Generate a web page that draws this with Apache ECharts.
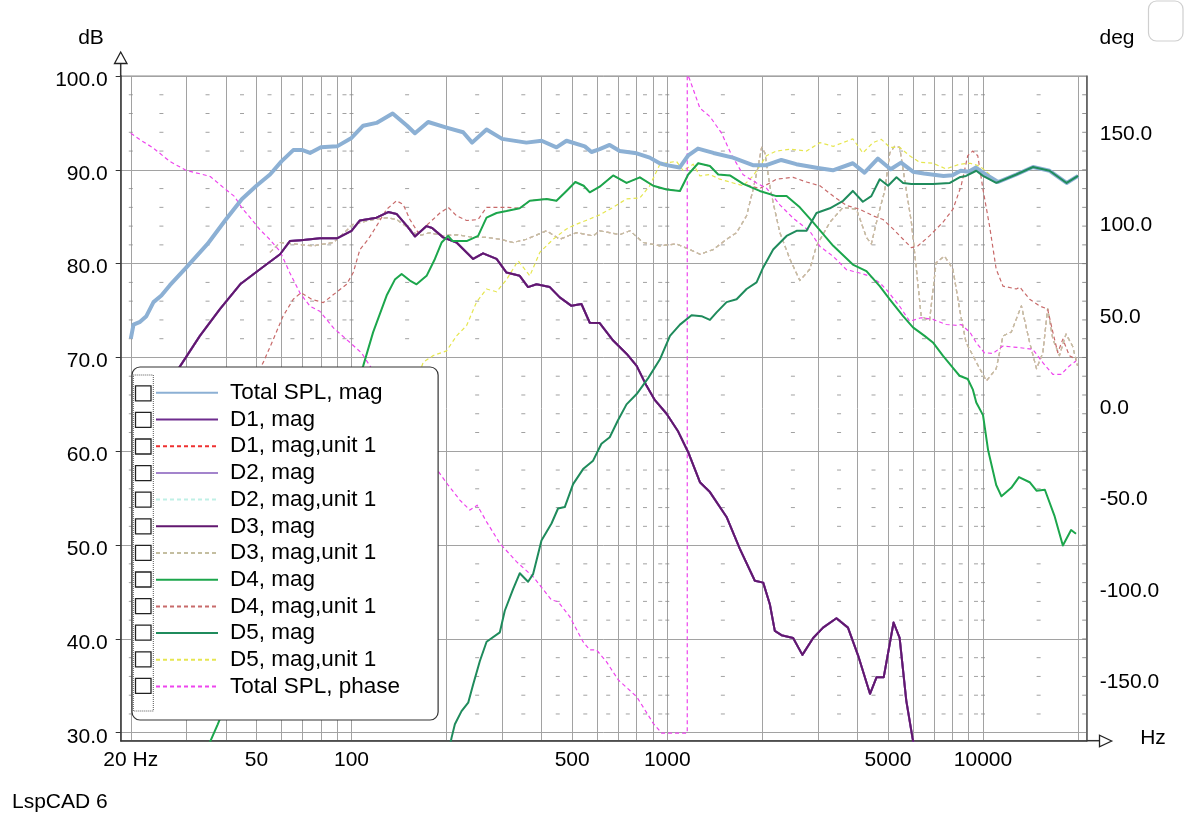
<!DOCTYPE html>
<html>
<head>
<meta charset="utf-8">
<script src="https://cdn.jsdelivr.net/npm/echarts@6/dist/echarts.min.js"></script>
<style>html,body{margin:0;padding:0;background:#fff}#c{width:1204px;height:825px}</style>
</head>
<body>
<div id="c"></div>
<script>
const FONT = '"Liberation Sans", Arial, sans-serif';

// ---- axis ranges and tick values ----
const X_MIN = 18.58, X_MAX = 21300;
const DB_MIN = 29.15, DB_MAX = 100;
const DEG_MIN = -184.2, DEG_MAX = 179.6;
const xGridFreqs = [20,30,40,50,60,70,80,90,100,200,300,400,500,600,700,800,900,1000,2000,3000,4000,5000,6000,7000,8000,9000,10000,20000];
const xLabelFreqs = [20,50,100,500,1000,5000,10000];
const dbTicks = [30,40,50,60,70,80,90,100];
const degTicks = [-150,-100,-50,0,50,100,150];
const dashFreqs = [20,25,35,45,55,65,75,85,95,100,150,250,350,450,550,650,750,850,950,1000,1500,2500,3500,4500,5500,6500,7500,8500,9500,10000,15000];
const dashLevels = [32,34,36,38,42,44,46,48,52,54,56,58,62,64,66,68,72,74,76,78,82,84,86,88,92,94,96,98];
const frameTickLevels = [32,34,36,38,40,42,44,46,48,50,52,54,56,58,60,62,64,66,68,70,72,74,76,78,80,82,84,86,88,90,92,94,96,98];

// ---- series names (legend order) ----
const seriesNames = ['Total SPL, mag','D1, mag','D1, mag,unit 1','D2, mag','D2, mag,unit 1','D3, mag','D3, mag,unit 1','D4, mag','D4, mag,unit 1','D5, mag','D5, mag,unit 1','Total SPL, phase'];

// ---- data: [frequency Hz, dB] ----
const totalSplMag = [[20,72.0],[20.4,73.5],[21.4,73.8],[22.4,74.4],[23.6,75.9],[25,76.6],[26.6,77.7],[30,79.6],[35,82.1],[40,84.7],[45,86.9],[50,88.3],[55.2,89.5],[60,90.9],[65.4,92.1],[70,92.1],[73.9,91.8],[80,92.4],[90,92.5],[100,93.4],[108.9,94.7],[120,95.0],[135,96.0],[150,94.7],[158.8,93.9],[174.9,95.1],[200,94.5],[225.7,94.0],[241,92.9],[267.7,94.3],[300,93.3],[358,92.9],[400,93.1],[445.8,92.4],[479.6,93.1],[548,92.5],[575.5,91.9],[611,92.2],[657,92.65],[707,92.0],[800,91.76],[880,91.3],[946,90.7],[995,90.5],[1094,90.24],[1163,91.5],[1251,92.26],[1400,91.8],[1614,91.3],[1867,90.5],[2060,90.5],[2297,91.05],[2563,90.6],[3000,90.2],[3346,89.95],[3870,90.7],[4214,89.7],[4643,91.2],[5100,90.06],[5500,90.77],[6000,89.8],[6500,89.6],[7500,89.35],[8000,89.42],[8500,89.9],[9000,89.8],[9500,90.24],[10000,89.7],[11160,88.7],[12750,89.5],[14400,90.3],[16250,89.9],[18400,88.6],[20000,89.35]];

const wooferMag = [[22,63.2],[28.7,69.1],[33.1,72.3],[38.3,75.15],[44.4,77.8],[51.3,79.4],[59.4,81.0],[63.8,82.4],[69.2,82.5],[79.4,82.7],[90,82.7],[100,83.5],[106.3,84.6],[120,84.9],[130.7,85.5],[138.9,85.3],[150,84.0],[158.8,82.9],[172.9,84.0],[180,83.8],[195,82.8],[215.1,82.25],[242.8,80.5],[261,81.1],[288,80.5],[309.7,79.05],[341,78.7],[362.4,77.5],[385.4,77.8],[424.6,77.5],[456.7,76.4],[497.4,75.5],[534.8,75.7],[568.3,73.7],[611,73.66],[674,71.8],[743,70.4],[800,69.1],[859,67.0],[914,65.45],[995,64.0],[1083,62.1],[1165,59.9],[1269,56.7],[1365,55.65],[1541,53.0],[1698,49.6],[1894,46.2],[2013,46.0],[2113,43.7],[2191,40.85],[2300,40.4],[2504,40.1],[2679,38.3],[2898,40.1],[3115,41.2],[3434,42.2],[3735,41.2],[4025,38.2],[4386,34.15],[4600,35.9],[4847,35.9],[5209,41.75],[5444,40.1],[5716,33.4],[5980,29.45],[6100,28.0]];

const wooferRaw = [[55.2,81.2],[59.4,82.25],[65.4,82.1],[75.7,81.9],[87.7,82.25],[101.3,84.2],[117.1,84.7],[129.2,84.9],[138.9,84.7],[153.1,83.7],[162.6,82.96],[177.1,83.3],[195,82.96],[215.1,83.1],[242.8,82.8],[267.7,82.8],[295,82.6],[325,82.25],[358,82.6],[414.5,83.5],[456.7,82.6],[515.6,83.3],[582.6,82.96],[611,83.5],[657,83.3],[708,83.1],[762,83.5],[839,82.25],[948,81.9],[1070,82.1],[1179,81.5],[1269,81.0],[1398,81.5],[1541,82.6],[1658,83.3],[1783,85.1],[1870,87.9],[1941,90.4],[1990,92.4],[2038,91.8],[2113,88.3],[2165,86.5],[2273,83.3],[2445,80.5],[2629,78.2],[2827,79.4],[2969,81.9],[3273,84.4],[3606,86.0],[3974,85.8],[4274,82.8],[4429,82.1],[4650,85.1],[4882,87.75],[5066,91.8],[5253,92.5],[5444,92.4],[5646,89.0],[5932,84.4],[6152,79.4],[6372,74.4],[6769,73.9],[7104,80.1],[7552,80.8],[8032,79.4],[8425,75.2],[8837,71.6],[9520,69.5],[10250,67.5],[11010,68.8],[11570,72.3],[12290,72.7],[13230,75.5],[14050,71.6],[14770,68.8],[15470,70.5],[16020,75.2],[16640,71.95],[17460,70.2],[18320,72.5],[19220,71.2],[19930,69.1]];

const midMag = [[35.2,28.6],[37.7,30.9],[108.9,69.1],[117.1,72.7],[129.2,76.6],[137.2,78.3],[144.1,78.9],[153.1,78.2],[160.7,77.8],[172.9,78.7],[183.7,80.5],[192.9,82.25],[202.4,82.96],[209,82.4],[231.5,82.4],[251.8,82.96],[267.7,84.9],[288,85.4],[309.7,85.6],[341,85.9],[367,86.7],[414.5,86.9],[445.8,86.7],[479.6,87.75],[511.5,88.7],[543.6,88.3],[568.3,87.6],[611,88.2],[674,89.4],[743,88.6],[819,89.2],[903,88.3],[995,87.9],[1097,87.75],[1165,89.5],[1253,90.7],[1365,90.4],[1450,89.5],[1579,89.4],[1740,88.5],[1963,87.75],[2216,87.2],[2387,87.2],[2629,86.0],[2898,84.4],[3354,81.9],[3870,79.9],[4274,79.2],[4709,77.6],[5066,76.2],[5584,74.4],[6000,73.2],[6530,72.3],[6939,71.6],[7461,70.2],[8032,68.9],[8425,68.05],[8946,67.7],[9280,66.6],[9520,65.2],[10000,63.85],[10380,60.1],[11010,56.4],[11440,55.2],[12290,56.1],[13000,57.25],[14050,56.7],[14770,55.8],[15700,55.9],[16830,53.15],[17900,49.95],[19010,51.6],[19700,51.2]];

const midRaw = [[40,62.0],[52.6,69.5],[56.5,71.9],[60.7,74.4],[65.4,76.2],[69.2,76.9],[74.8,76.2],[81.4,75.85],[87.7,76.7],[96.5,77.8],[101.3,79.05],[106.3,81.5],[113,82.6],[120,84.0],[129.2,85.8],[138.9,86.7],[145.8,86.3],[153.1,84.7],[162.6,83.3],[177.1,84.4],[190.6,85.4],[202.4,86.0],[215.1,85.1],[231.5,84.6],[251.8,84.7],[267.7,86.0],[288,86.0],[313.3,86.0],[341,85.9],[367,86.7],[414.5,86.9],[445.8,86.7],[479.6,87.75],[511.5,88.7],[543.6,88.3],[568.3,87.6],[611,88.2],[674,89.4],[743,88.6],[819,89.2],[903,88.3],[995,87.9],[1097,87.75],[1165,89.5],[1253,90.7],[1365,90.4],[1450,89.5],[1579,89.4],[1740,88.5],[1963,88.0],[2216,89.0],[2504,89.2],[2761,88.7],[3045,88.3],[3354,87.2],[3694,86.2],[4069,85.8],[4483,85.1],[4824,84.7],[5189,83.7],[5584,82.6],[5932,81.7],[6224,81.9],[6769,82.96],[7461,84.4],[8032,85.8],[8527,88.3],[8946,91.5],[9280,92.0],[9625,91.5],[10000,87.9],[10490,84.0],[11010,79.4],[11570,77.6],[12750,77.3],[13080,77.5],[14050,76.2],[15090,75.5],[16020,75.15],[16640,72.7],[17250,70.5],[17900,71.95],[18770,70.2],[19700,69.8]];

const tweeterMag = [[204,28.3],[207.4,29.45],[212.5,30.9],[223.1,32.3],[234.2,33.2],[242.8,35.15],[255,37.65],[267.8,39.7],[295,40.7],[305.8,43.0],[324.9,45.3],[341.2,47.0],[362.4,46.1],[375.8,46.9],[399.6,50.5],[429.9,52.3],[450.9,53.9],[473.6,54.05],[503.2,56.5],[541.2,58.1],[582.2,59.0],[618.8,60.8],[657.3,61.5],[698.2,63.3],[743,65.0],[800,66.1],[870,67.8],[948,69.8],[1020,72.3],[1097,73.5],[1194,74.5],[1284,74.4],[1365,74.0],[1433,74.8],[1541,75.9],[1658,76.2],[1783,77.3],[1918,78.0],[2013,79.6],[2165,81.5],[2387,82.95],[2567,83.5],[2761,83.5],[2969,85.4],[3273,85.9],[3606,86.7],[3870,87.75],[4163,86.6],[4429,87.2],[4709,89.0],[5005,88.3],[5321,89.2],[5584,88.6],[5932,88.5],[6939,88.5],[7851,88.6],[8425,89.2],[8837,89.35],[9520,89.9],[10000,89.35],[11010,88.6],[12750,89.5],[14400,90.3],[16250,89.9],[18400,88.6],[20000,89.35]];

const tweeterRaw = [[140,62.0],[168.8,69.5],[181.5,70.2],[200,70.7],[215.1,72.3],[231.5,73.4],[248.9,75.9],[267.7,77.3],[288,77.0],[309.7,78.3],[337,80.3],[354,79.4],[367,78.7],[394.9,81.2],[435.1,82.6],[479.6,83.7],[515.6,84.2],[553,84.6],[611,85.2],[674,86.0],[743,86.9],[819,87.0],[880,88.3],[948,90.6],[1020,90.8],[1070,90.9],[1124,89.9],[1208,90.6],[1269,89.35],[1365,89.5],[1468,89.0],[1617,88.6],[1740,88.3],[1870,89.35],[1963,90.4],[2061,91.5],[2216,92.0],[2445,92.2],[2761,92.0],[3045,92.9],[3354,92.5],[3606,92.9],[3870,93.3],[4163,91.8],[4483,92.9],[4765,93.25],[5066,92.4],[5444,92.4],[5856,91.5],[6298,90.8],[6939,90.7],[7643,90.1],[8425,90.6],[9110,90.7],[9760,90.4],[10490,89.5],[11010,88.7],[12750,89.5],[14400,90.3],[16250,89.9],[18400,88.6],[20000,89.35]];

// ---- data: [frequency Hz, degrees] ----
const totalSplPhase = [[20,148.3],[21.4,144.7],[23.6,140.1],[26.6,132.8],[30,127.9],[33.1,126.1],[35.7,124.6],[39.5,118.2],[42.6,113.7],[45,107.3],[47.9,101.8],[51.3,95.5],[55.2,90.0],[59.4,83.6],[63.8,71.8],[68.7,60.8],[73.9,53.6],[79.4,50.8],[87.7,41.7],[96.6,35.3],[107.6,28.0],[188.1,-36.7],[202.4,-44.3],[220.4,-52.5],[237.1,-58.0],[250,-55.3],[267.8,-64.4],[295,-76.2],[333,-86.2],[375.8,-94.4],[429.9,-107.2],[450.9,-108.1],[491,-116.3],[541,-130.0],[568,-134.5],[596.6,-134.5],[641.5,-140.9],[700,-151.0],[800,-160.1],[903,-174.7],[960,-180],[1157,-180],[1157,180],[1174,178.4],[1269,162.0],[1365,157.4],[1486,148.3],[1597,136.5],[1740,125.5],[1918,121.0],[2061,118.2],[2273,109.1],[2504,101.8],[2832,94.5],[3045,86.3],[3354,80.9],[3694,73.6],[4069,71.8],[4386,70.0],[4709,66.4],[4942,62.7],[5444,53.6],[5856,45.4],[6372,47.3],[6939,46.4],[7643,43.6],[8325,43.1],[8527,43.6],[9110,39.1],[9520,33.6],[10110,28.1],[10750,27.8],[11570,31.8],[13080,30.9],[14380,30.0],[15470,22.7],[16640,16.3],[17680,16.3],[18770,20.9],[19700,23.6]];

// ---- build ----
const chart = echarts.init(document.getElementById('c'), null, {renderer: 'canvas'});

function lineSeries(name, data, color, width, dashed, yIdx, z) {
  return {
    name: name, type: 'line', data: data, yAxisIndex: yIdx || 0,
    symbol: 'none', showSymbol: false, smooth: false, clip: true,
    z: z, silent: true, animation: false,
    lineStyle: {color: color, width: width, type: dashed ? [4, 3] : 'solid', cap: 'butt', join: 'round'},
    itemStyle: {color: color}
  };
}

const dashData = [];
dashFreqs.forEach(f => dashLevels.forEach(l => dashData.push([f, l])));
const frameTickData = frameTickLevels.map(l => [X_MAX, l]);

const grid = {left: 120.7, top: 76, width: 966, height: 664.7};

const series = [
  {type: 'scatter', name: '_minor', data: dashData, symbol: 'rect', symbolSize: [4, 1], silent: true, z: 1,
   itemStyle: {color: '#8a8a8a'}, animation: false},
  {type: 'scatter', name: '_frameTicks', data: frameTickData, symbol: 'rect', symbolSize: [4, 1], symbolOffset: [-2.5, 0],
   silent: true, z: 1, itemStyle: {color: '#777'}, animation: false},
  lineSeries(seriesNames[0], totalSplMag, '#8cb0d4', 4, false, 0, 3),
  lineSeries(seriesNames[1], wooferMag, '#6e2c8e', 2, false, 0, 3),
  lineSeries(seriesNames[2], wooferRaw, '#ee3030', 1.2, true, 0, 2),
  lineSeries(seriesNames[3], wooferMag, '#a384cc', 2, false, 0, 3),
  lineSeries(seriesNames[4], wooferRaw, '#bff0e6', 1.2, true, 0, 2),
  lineSeries(seriesNames[5], wooferMag, '#62176f', 2, false, 0, 3),
  lineSeries(seriesNames[6], wooferRaw, '#c4bea0', 1.2, true, 0, 2),
  lineSeries(seriesNames[7], midMag, '#1ca64c', 2, false, 0, 3),
  lineSeries(seriesNames[8], midRaw, '#c86a6a', 1.2, true, 0, 2),
  lineSeries(seriesNames[9], tweeterMag, '#1f8b5c', 2, false, 0, 3),
  lineSeries(seriesNames[10], tweeterRaw, '#e6e650', 1.2, true, 0, 2),
  lineSeries(seriesNames[11], totalSplPhase, '#ee44ee', 1.2, true, 1, 2)
];

// checkbox column next to the legend (decoration)
const graphics = [];
const rowTop = 393.3, rowStep = 26.6;
graphics.push({type: 'rect', z: 100, shape: {x: 133.3, y: 375, width: 20, height: 336},
  style: {fill: 'none', stroke: '#555', lineWidth: 1, lineDash: [1, 1]}});
seriesNames.forEach((n, i) => {
  graphics.push({type: 'rect', z: 101, shape: {x: 135.5, y: rowTop + i * rowStep - 7.5, width: 15.5, height: 15},
    style: {fill: '#fff', stroke: '#222', lineWidth: 1.3}});
});
// axis arrows
graphics.push({type: 'line', z: 100, shape: {x1: 120.7, y1: 76, x2: 120.7, y2: 63.5}, style: {stroke: '#333', lineWidth: 1.5}});
graphics.push({type: 'polygon', z: 100, shape: {points: [[120.7, 52], [114.5, 63.5], [127, 63.5]]}, style: {fill: '#fff', stroke: '#222', lineWidth: 1.3}});
graphics.push({type: 'line', z: 100, shape: {x1: 1086.7, y1: 740.7, x2: 1099.5, y2: 740.7}, style: {stroke: '#333', lineWidth: 1.5}});
graphics.push({type: 'polygon', z: 100, shape: {points: [[1111.7, 741], [1099.5, 735.2], [1099.5, 746.8]]}, style: {fill: '#fff', stroke: '#222', lineWidth: 1.3}});
// texts
const txt = (t, x, y, align) => ({type: 'text', z: 100, style: {text: t, x: x, y: y, align: align || 'center', verticalAlign: 'middle',
  font: '21px ' + FONT, fill: '#000'}});
graphics.push(txt('dB', 91, 38));
graphics.push(txt('deg', 1117, 38));
graphics.push(txt('Hz', 1153, 738));
graphics.push(txt('LspCAD 6', 12, 802, 'left'));
graphics.push({type: 'rect', z: 100, shape: {x: 1148.5, y: 1, width: 34.5, height: 40, r: 8}, style: {fill: 'none', stroke: '#cfcfcf', lineWidth: 1.2}});

const option = {
  animation: false,
  backgroundColor: '#fff',
  textStyle: {fontFamily: FONT},
  grid: Object.assign({show: true, borderColor: '#8a8a8a', borderWidth: 1, backgroundColor: 'transparent'}, grid),
  xAxis: {
    type: 'log', logBase: 10, min: X_MIN, max: X_MAX,
    axisLine: {show: true, onZero: false, lineStyle: {color: '#333', width: 1.5}},
    axisTick: {show: false, customValues: xGridFreqs},
    splitLine: {show: true, lineStyle: {color: '#a2a2a2', width: 1}},
    minorTick: {show: false}, minorSplitLine: {show: false},
    axisLabel: {customValues: xLabelFreqs, margin: 9, fontSize: 21, fontFamily: FONT, color: '#000',
      formatter: v => { const r = Math.round(v); return r === 20 ? '20 Hz' : String(r); }}
  },
  yAxis: [
    {
      type: 'value', min: DB_MIN, max: DB_MAX, position: 'left',
      axisLine: {show: true, onZero: false, lineStyle: {color: '#333', width: 1.5}},
      axisTick: {show: true, customValues: dbTicks, length: 5, lineStyle: {color: '#333'}},
      splitLine: {show: true, lineStyle: {color: '#a2a2a2', width: 1}},
      axisLabel: {customValues: dbTicks, margin: 13, fontSize: 21, fontFamily: FONT, color: '#000',
        verticalAlign: 'top', lineHeight: 8, formatter: v => v.toFixed(1)}
    },
    {
      type: 'value', min: DEG_MIN, max: DEG_MAX, position: 'right',
      axisLine: {show: true, onZero: false, lineStyle: {color: '#555', width: 1.5}},
      axisTick: {show: false},
      splitLine: {show: false},
      axisLabel: {customValues: degTicks, margin: 13, fontSize: 21, fontFamily: FONT, color: '#000',
        verticalAlign: 'top', lineHeight: 8, formatter: v => v.toFixed(1)}
    }
  ],
  legend: {
    data: seriesNames, orient: 'vertical', left: 132, top: 367,
    padding: [14.3, 38, 22, 23], itemWidth: 62, itemHeight: 24, itemGap: 3.7,
    backgroundColor: '#fff', borderColor: '#333', borderWidth: 1.2, borderRadius: 8,
    selectedMode: false, z: 10,
    itemStyle: {opacity: 0},
    textStyle: {fontFamily: FONT, fontSize: 22.5, color: '#000', lineHeight: 22, padding: [0, 0, 0, 7]}
  },
  graphic: {elements: graphics},
  series: series
};
chart.setOption(option);
</script>
</body>
</html>
